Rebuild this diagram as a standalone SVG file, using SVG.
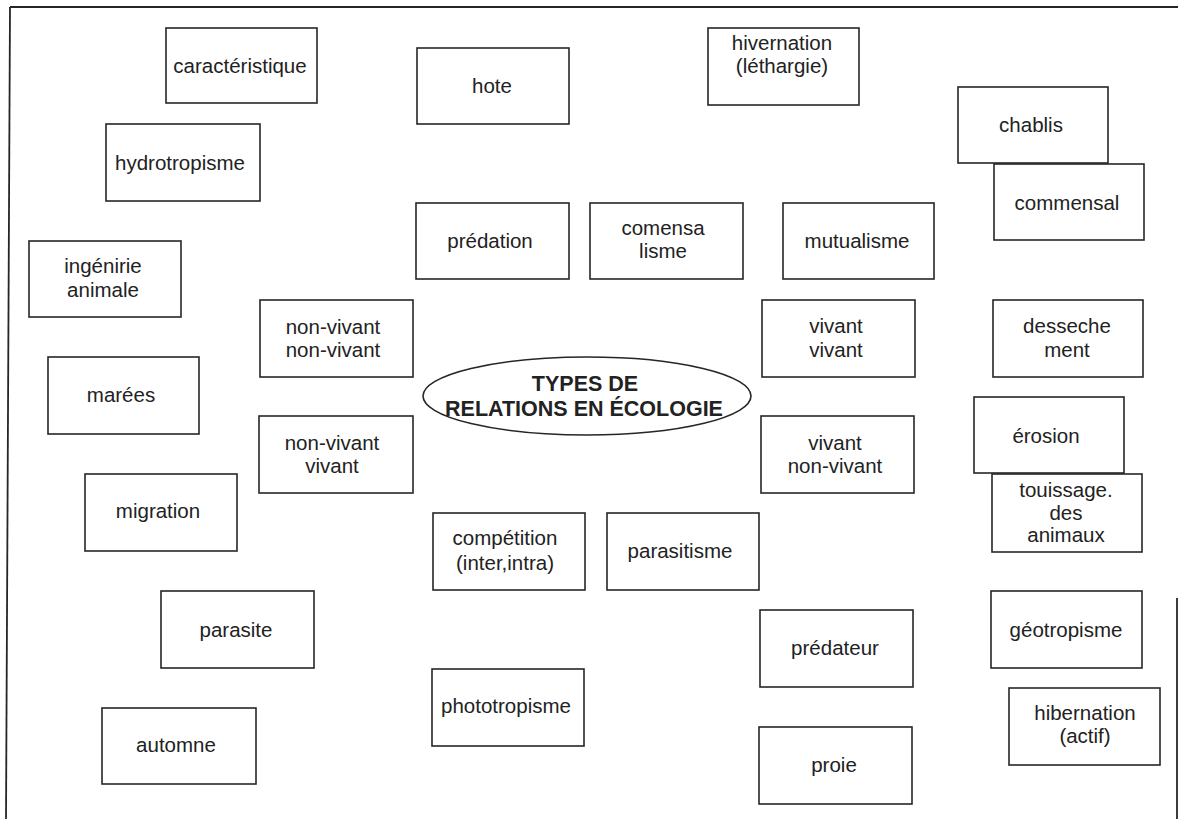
<svg xmlns="http://www.w3.org/2000/svg" width="1178" height="819" viewBox="0 0 1178 819">
  <style>
    .box { fill: #fff; stroke: #262626; stroke-width: 1.6; }
    .lbl { font-family: "Liberation Sans", Arial, sans-serif; font-size: 20.5px; fill: #222; text-anchor: middle; }
    .title { font-family: "Liberation Sans", Arial, sans-serif; font-size: 21.5px; font-weight: bold; fill: #222; text-anchor: middle; }
    .frame { stroke: #262626; stroke-width: 1.8; fill: none; }
  </style>
  <rect width="1178" height="819" fill="#fff"/>

  <!-- page frame -->
  <g id="frame">
    <line class="frame" x1="10" y1="7" x2="1178" y2="7"/>
    <line class="frame" x1="10" y1="7" x2="6" y2="819"/>
    <line class="frame" x1="1177" y1="598" x2="1177" y2="819"/>
  </g>

  <!-- connectors (none drawn) -->
  <g id="connectors"></g>

  <g id="center">
    <ellipse class="box" cx="587" cy="396" rx="164" ry="39"/>
    <text class="title" x="585" y="391">TYPES DE</text>
    <text class="title" x="584" y="416">RELATIONS EN ÉCOLOGIE</text>
  </g>

  <g id="caracteristique"><rect class="box" x="166" y="28" width="151" height="75"/><text class="lbl" x="240" y="73">caractéristique</text></g>
  <g id="hydrotropisme"><rect class="box" x="106" y="124" width="154" height="77"/><text class="lbl" x="180" y="170">hydrotropisme</text></g>
  <g id="ingenirie"><rect class="box" x="29" y="241" width="152" height="76"/><text class="lbl" x="103" y="273">ingénirie</text><text class="lbl" x="103" y="297">animale</text></g>
  <g id="marees"><rect class="box" x="48" y="357" width="151" height="77"/><text class="lbl" x="121" y="402">marées</text></g>
  <g id="migration"><rect class="box" x="85" y="474" width="152" height="77"/><text class="lbl" x="158" y="518">migration</text></g>
  <g id="parasite"><rect class="box" x="161" y="591" width="153" height="77"/><text class="lbl" x="236" y="637">parasite</text></g>
  <g id="automne"><rect class="box" x="102" y="708" width="154" height="76"/><text class="lbl" x="176" y="752">automne</text></g>

  <g id="hote"><rect class="box" x="417" y="48" width="152" height="76"/><text class="lbl" x="492" y="93">hote</text></g>
  <g id="hivernation"><rect class="box" x="708" y="28" width="151" height="77"/><text class="lbl" x="782" y="50">hivernation</text><text class="lbl" x="782" y="73">(léthargie)</text></g>
  <g id="chablis"><rect class="box" x="958" y="87" width="150" height="76"/><text class="lbl" x="1031" y="132">chablis</text></g>
  <g id="commensal"><rect class="box" x="994" y="164" width="150" height="76"/><text class="lbl" x="1067" y="210">commensal</text></g>

  <g id="predation"><rect class="box" x="416" y="203" width="153" height="76"/><text class="lbl" x="490" y="248">prédation</text></g>
  <g id="comensalisme"><rect class="box" x="590" y="203" width="153" height="76"/><text class="lbl" x="663" y="235">comensa</text><text class="lbl" x="663" y="258">lisme</text></g>
  <g id="mutualisme"><rect class="box" x="783" y="203" width="151" height="76"/><text class="lbl" x="857" y="248">mutualisme</text></g>

  <g id="nonvivant-nonvivant"><rect class="box" x="260" y="300" width="153" height="77"/><text class="lbl" x="333" y="334">non-vivant</text><text class="lbl" x="333" y="357">non-vivant</text></g>
  <g id="nonvivant-vivant"><rect class="box" x="259" y="416" width="154" height="77"/><text class="lbl" x="332" y="450">non-vivant</text><text class="lbl" x="332" y="473">vivant</text></g>
  <g id="vivant-vivant"><rect class="box" x="762" y="300" width="153" height="77"/><text class="lbl" x="836" y="333">vivant</text><text class="lbl" x="836" y="357">vivant</text></g>
  <g id="vivant-nonvivant"><rect class="box" x="761" y="416" width="153" height="77"/><text class="lbl" x="835" y="450">vivant</text><text class="lbl" x="835" y="473">non-vivant</text></g>

  <g id="dessechement"><rect class="box" x="993" y="300" width="150" height="77"/><text class="lbl" x="1067" y="333">desseche</text><text class="lbl" x="1067" y="357">ment</text></g>
  <g id="erosion"><rect class="box" x="974" y="397" width="150" height="76"/><text class="lbl" x="1046" y="443">érosion</text></g>
  <g id="touissage"><rect class="box" x="992" y="474" width="150" height="78"/><text class="lbl" x="1066" y="497">touissage.</text><text class="lbl" x="1066" y="520">des</text><text class="lbl" x="1066" y="542">animaux</text></g>

  <g id="competition"><rect class="box" x="433" y="513" width="152" height="77"/><text class="lbl" x="505" y="545">compétition</text><text class="lbl" x="505" y="570">(inter,intra)</text></g>
  <g id="parasitisme"><rect class="box" x="607" y="513" width="152" height="77"/><text class="lbl" x="680" y="558">parasitisme</text></g>
  <g id="phototropisme"><rect class="box" x="432" y="669" width="152" height="77"/><text class="lbl" x="506" y="713">phototropisme</text></g>

  <g id="predateur"><rect class="box" x="760" y="610" width="153" height="77"/><text class="lbl" x="835" y="655">prédateur</text></g>
  <g id="proie"><rect class="box" x="759" y="727" width="153" height="77"/><text class="lbl" x="834" y="772">proie</text></g>
  <g id="geotropisme"><rect class="box" x="991" y="591" width="151" height="77"/><text class="lbl" x="1066" y="637">géotropisme</text></g>
  <g id="hibernation"><rect class="box" x="1009" y="688" width="151" height="77"/><text class="lbl" x="1085" y="720">hibernation</text><text class="lbl" x="1085" y="743">(actif)</text></g>
</svg>
